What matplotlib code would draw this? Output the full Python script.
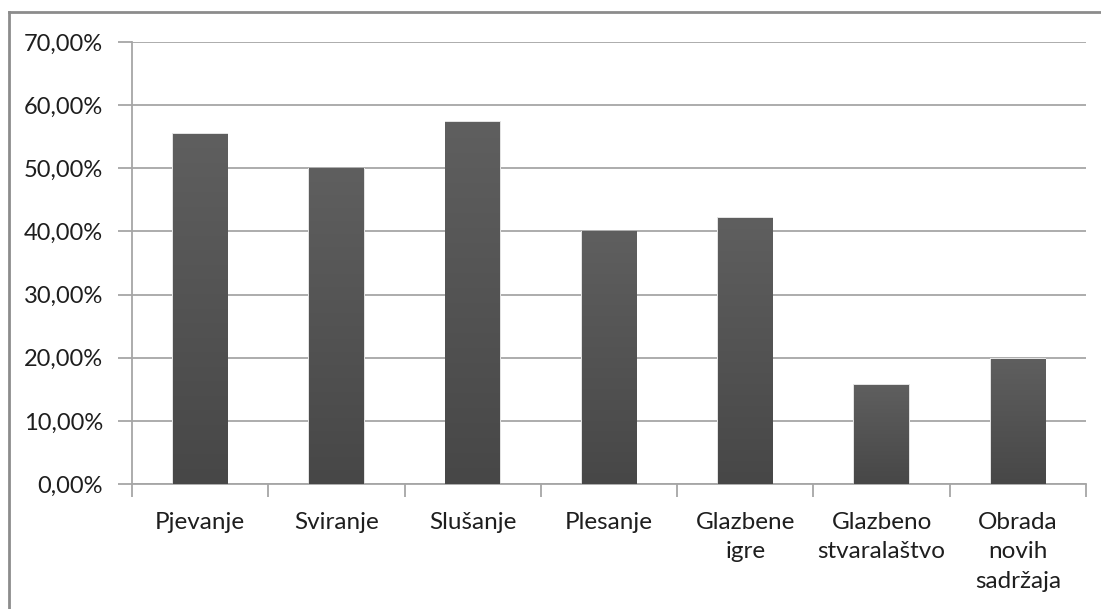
import matplotlib
matplotlib.use('Agg')
import matplotlib.pyplot as plt
import numpy as np
from matplotlib.lines import Line2D
from matplotlib.ticker import FuncFormatter

# values (percent)
kategorije = ['Pjevanje', 'Sviranje', 'Slušanje', 'Plesanje',
              'Glazbene\nigre', 'Glazbeno\nstvaralaštvo', 'Obrada\nnovih\nsadržaja']
postotci = [55.5, 50.0, 57.3, 40.0, 42.2, 15.7, 19.8]
y_ticks = [0, 10, 20, 30, 40, 50, 60, 70]

plt.rcParams['font.family'] = ['Lato', 'DejaVu Sans']

fig = plt.figure(figsize=(11.01, 6.09), dpi=100)
ax = fig.add_axes([132/1101, 1 - 484/609, (1086 - 132)/1101, (484 - 42)/609])

x = np.arange(len(kategorije))
sirina = 0.4

# gradient for bars, lighter at top
grad = np.linspace(0, 1, 256).reshape(-1, 1)
cmap = matplotlib.colors.LinearSegmentedColormap.from_list('siva', ['#474747', '#5f5f5f'])

bars = ax.bar(x, postotci, width=sirina, color='#555555', zorder=3,
              edgecolor='none')
for b in bars:
    # soft shadow round the bar
    sh = plt.Rectangle((b.get_x() - 0.006, 0), b.get_width() + 0.012, b.get_height() + 0.12,
                       facecolor='#e2e2e2', edgecolor='none', zorder=2.5)
    ax.add_patch(sh)
    im = ax.imshow(grad, cmap=cmap, aspect='auto', origin='lower',
                   extent=(b.get_x(), b.get_x() + b.get_width(), 0, b.get_height()),
                   zorder=3.5)
    im.set_clip_path(b)

ax.set_xlim(-0.5, len(kategorije) - 0.5)
ax.set_ylim(0, 70)
ax.set_yticks(y_ticks)
ax.yaxis.set_major_formatter(FuncFormatter(lambda v, p: f'{v:.2f}'.replace('.', ',') + '%'))
ax.grid(axis='y', color='#a6a6a6', linewidth=1.3, zorder=1)

ax.set_xticks(x)
ax.set_xticklabels(kategorije, linespacing=1.5, va='top')
ax.set_xticks(np.arange(-0.5, len(kategorije)), minor=True)
ax.tick_params(axis='x', which='major', length=0, pad=20, labelsize=17.5)
ax.tick_params(axis='x', which='minor', length=9, width=1.3, color='#a6a6a6')
ax.tick_params(axis='y', length=10, width=1.3, color='#a6a6a6', pad=11, labelsize=17)
for t in ax.get_xticklabels() + ax.get_yticklabels():
    t.set_color('#1e1e1e')

for s in ['top', 'right']:
    ax.spines[s].set_visible(False)
ax.spines['left'].set_color('#a6a6a6')
ax.spines['bottom'].set_color('#a6a6a6')
ax.spines['left'].set_linewidth(1.3)
ax.spines['bottom'].set_linewidth(1.3)

# outer chart frame (top and left edges visible)
fig.add_artist(Line2D([9/1101, 1], [1 - 12/609, 1 - 12/609], color='#8c8c8c', linewidth=2))
fig.add_artist(Line2D([9/1101, 9/1101], [0, 1 - 12/609], color='#8c8c8c', linewidth=2))

fig.savefig('out.png', dpi=100)
